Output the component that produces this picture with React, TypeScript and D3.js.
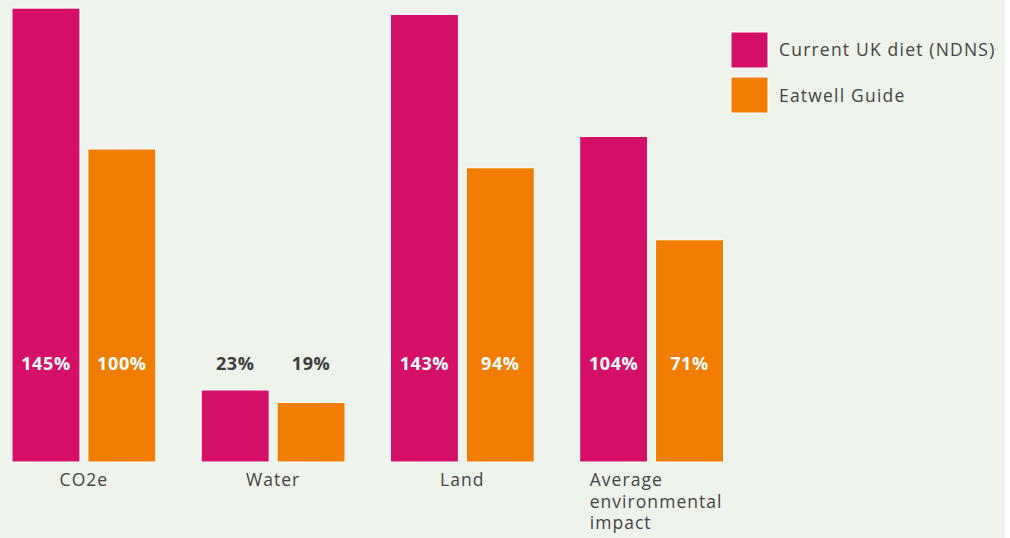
import React from "react";
import * as d3 from "d3";

const categories = ["CO2e", "Water", "Land", "Average environmental impact"];
const categoryLines = [["CO2e"], ["Water"], ["Land"], ["Average", "environmental", "impact"]];
const seriesNames = ["Current UK diet (NDNS)", "Eatwell Guide"];
const currentUK = [145, 23, 143, 104];
const eatwell = [100, 19, 94, 71];
const colors = ["#d50f67", "#f07d00"];

const W = 1005;
const H = 538;
const baseY = 462;

export default function App() {
  const x0 = d3.scaleBand<string>().domain(categories).range([12, 723.5]).paddingInner(0.24).paddingOuter(0);
  const x1 = d3.scaleBand<number>().domain([0, 1]).range([0, x0.bandwidth()]).paddingInner(0.105);
  const y = d3.scaleLinear().domain([0, 147.6]).range([baseY, 0]);
  const series = [currentUK, eatwell];
  const labelY = 364;
  const font = "'Open Sans', sans-serif";
  return (
    <svg width={W} height={H} style={{ position: "absolute", left: 0, top: 0, background: "#eef3ec", fontFamily: font }}>
      {categories.map((c, i) => {
        const gx = x0(c) as number;
        const multi = categoryLines[i].length > 1;
        return (
          <g key={c}>
            {series.map((s, k) => {
              const bx = gx + (x1(k) as number);
              const bw = x1.bandwidth();
              const inside = y(0) - y(s[i]) > 120;
              return (
                <g key={k}>
                  <rect x={bx} y={y(s[i])} width={bw} height={y(0) - y(s[i])} fill={colors[k]} stroke="#fff" strokeWidth={1} />
                  <text x={bx + bw / 2} y={labelY + 6} textAnchor="middle" fontSize={18} fontWeight={700} letterSpacing={0.6} fill={inside ? "#fff" : "#3d3d3d"}>
                    {s[i] + "%"}
                  </text>
                </g>
              );
            })}
            <text
              x={multi ? gx + 10 : gx + x0.bandwidth() / 2}
              y={486}
              textAnchor={multi ? "start" : "middle"}
              fontSize={17.5}
              letterSpacing={1.05}
              fill="#444"
            >
              {categoryLines[i].map((ln, j) => (
                <tspan key={j} x={multi ? gx + 10 : gx + x0.bandwidth() / 2} dy={j === 0 ? 0 : 21.5}>
                  {ln}
                </tspan>
              ))}
            </text>
          </g>
        );
      })}
      {seriesNames.map((n, k) => (
        <g key={n}>
          <rect x={731} y={32 + k * 45} width={37} height={36} fill={colors[k]} stroke="#fff" strokeWidth={1} />
          <text x={779} y={56 + k * 45.5} fontSize={17.5} letterSpacing={1.2} fill="#444">
            {n}
          </text>
        </g>
      ))}
    </svg>
  );
}
